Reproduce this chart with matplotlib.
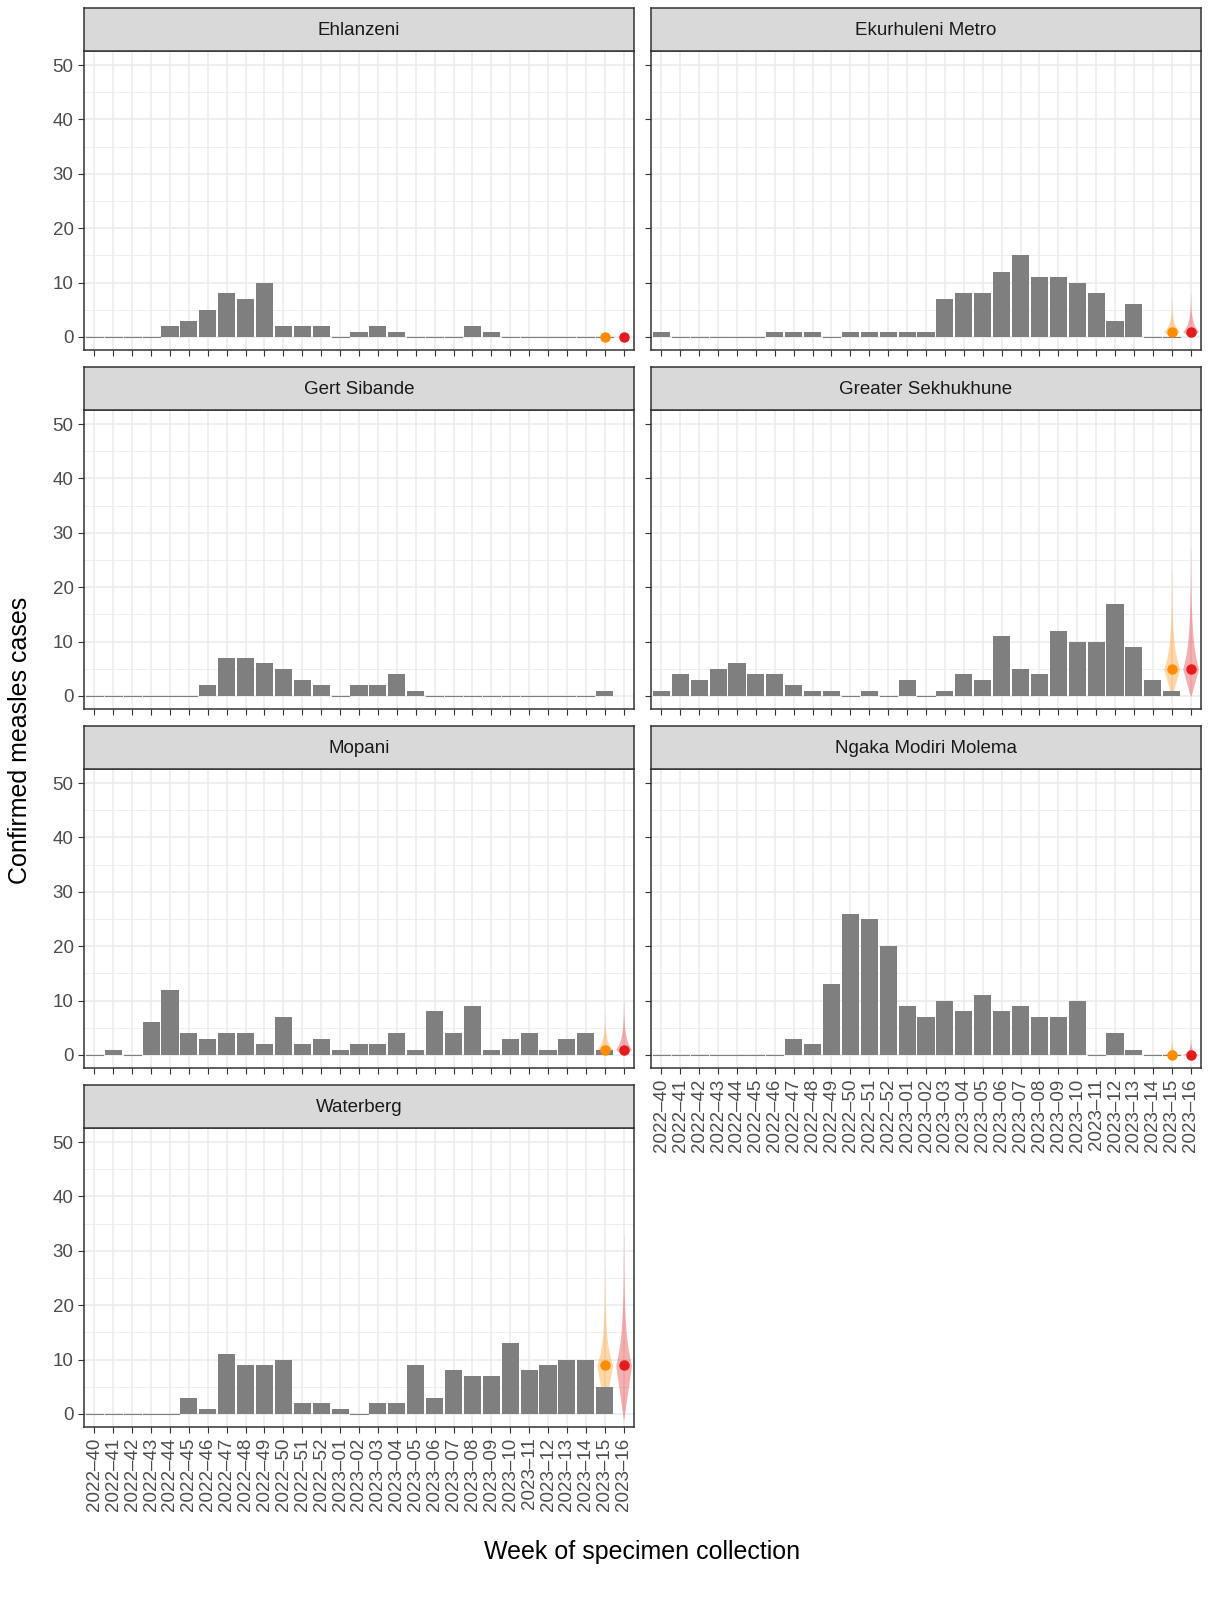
import matplotlib
matplotlib.use("Agg")
import matplotlib.pyplot as plt
import numpy as np

plt.rcParams['font.family'] = ['Liberation Sans', 'DejaVu Sans']

weeks = ["2022\u201340", "2022\u201341", "2022\u201342", "2022\u201343", "2022\u201344", "2022\u201345",
         "2022\u201346", "2022\u201347", "2022\u201348", "2022\u201349", "2022\u201350", "2022\u201351",
         "2022\u201352"] + ["2023\u2013%02d" % i for i in range(1, 17)]

districts = ["Ehlanzeni", "Ekurhuleni Metro", "Gert Sibande", "Greater Sekhukhune",
             "Mopani", "Ngaka Modiri Molema", "Waterberg"]

# confirmed cases per week (last week = 2023-16 has no bar)
ehlanzeni = [0, 0, 0, 0, 2, 3, 5, 8, 7, 10, 2, 2, 2, 0, 1, 2, 1, 0, 0, 0, 2, 1, 0, 0, 0, 0, 0, 0]
ekurhuleni = [1, 0, 0, 0, 0, 0, 1, 1, 1, 0, 1, 1, 1, 1, 1, 7, 8, 8, 12, 15, 11, 11, 10, 8, 3, 6, 0, 0]
gert = [0, 0, 0, 0, 0, 0, 2, 7, 7, 6, 5, 3, 2, 0, 2, 2, 4, 1, 0, 0, 0, 0, 0, 0, 0, 0, 0, 1]
sekhukhune = [1, 4, 3, 5, 6, 4, 4, 2, 1, 1, 0, 1, 0, 3, 0, 1, 4, 3, 11, 5, 4, 12, 10, 10, 17, 9, 3, 1]
mopani = [0, 1, 0, 6, 12, 4, 3, 4, 4, 2, 7, 2, 3, 1, 2, 2, 4, 1, 8, 4, 9, 1, 3, 4, 1, 3, 4, 1]
ngaka = [0, 0, 0, 0, 0, 0, 0, 3, 2, 13, 26, 25, 20, 9, 7, 10, 8, 11, 8, 9, 7, 7, 10, 0, 4, 1, 0, 0]
waterberg = [0, 0, 0, 0, 0, 3, 1, 11, 9, 9, 10, 2, 2, 1, 0, 2, 2, 9, 3, 8, 7, 7, 13, 8, 9, 10, 10, 5]
cases = [ehlanzeni, ekurhuleni, gert, sekhukhune, mopani, ngaka, waterberg]

# nowcast for 2023-15 (orange) and 2023-16 (red): median, lower, upper
nowcast15 = [(0, 0, 0.6), (1, 0, 7), None, (5, 0, 23), (1, 0, 8), (0, 0, 3), (9, 1, 27)]
nowcast16 = [(0, 0, 0.6), (1, 0, 8), None, (5, 0, 27), (1, 0, 10), (0, 0, 3), (9, -1, 33)]

W, H = 1232, 1603
fig = plt.figure(figsize=(W / 100, H / 100), dpi=100)

cols = [84, 651]
rows = [8, 367, 726, 1085]
pw, ph, sh = 550, 299, 43

gray_txt = '#4D4D4D'


def violin(ax, x, est, color):
    med, lo, hi = est
    y = np.linspace(lo, hi, 200)
    # skewed density shape peaked at the median
    d = np.where(y <= med, (y - lo + 0.3) / (med - lo + 0.3), np.exp(-2.2 * (y - med) / (hi - med + 1e-9) * 2))
    d = np.clip(d, 0, 1) * 0.42
    ax.fill_betweenx(y, x - d, x + d, color=color, alpha=0.35, lw=0)
    ax.plot(x, med, 'o', color=color, ms=6.5, zorder=5)


for i, name in enumerate(districts):
    r, c = divmod(i, 2)
    x0, y0 = cols[c], rows[r]
    ax = fig.add_axes([x0 / W, 1 - (y0 + sh + ph) / H, pw / W, ph / H])
    sax = fig.add_axes([x0 / W, 1 - (y0 + sh) / H, pw / W, sh / H])
    sax.set_facecolor('#D9D9D9')
    sax.set_xticks([]); sax.set_yticks([])
    for s in sax.spines.values():
        s.set_color('#333333'); s.set_linewidth(1.1)
    sax.text(0.5, 0.48, name, ha='center', va='center', fontsize=13.5, color='#1A1A1A')

    xs = np.arange(len(weeks))
    ax.set_xlim(-0.55, len(weeks) - 0.45)
    ax.set_ylim(-2.4, 52.6)
    ax.set_yticks([0, 10, 20, 30, 40, 50])
    ax.set_yticks([5, 15, 25, 35, 45], minor=True)
    ax.set_xticks(xs)
    ax.grid(True, which='major', color='#EBEBEB', lw=1.1)
    ax.grid(True, which='minor', axis='y', color='#EBEBEB', lw=0.6)
    ax.set_axisbelow(True)
    vals = cases[i]
    ax.bar(xs[:len(vals)], vals, width=0.9, color='#7F7F7F', zorder=2)
    # zero-height bars show as a thin line
    for k, v in enumerate(vals):
        if v == 0:
            ax.plot([k - 0.45, k + 0.45], [0, 0], color='#7F7F7F', lw=0.8, zorder=2)
    if nowcast15[i] is not None:
        violin(ax, len(weeks) - 2, nowcast15[i], '#FF8C00')
        violin(ax, len(weeks) - 1, nowcast16[i], '#E41A1C')
    for s in ax.spines.values():
        s.set_color('#333333'); s.set_linewidth(1.1)
    ax.tick_params(colors='#333333', labelcolor=gray_txt, labelsize=13.5, length=4)
    ax.tick_params(which='minor', length=0)
    if c == 1:
        ax.tick_params(axis='y', labelleft=False)
    if name in ("Waterberg", "Ngaka Modiri Molema"):
        ax.set_xticklabels(weeks, rotation=90, fontsize=13.5)
    else:
        ax.tick_params(axis='x', labelbottom=False)

fig.text(20 / W, 1 - 740 / H, "Confirmed measles cases", rotation=90, ha='center', va='center', fontsize=18)
fig.text(642 / W, 1 - 1552 / H, "Week of specimen collection", ha='center', va='center', fontsize=18)

fig.savefig("out.png", dpi=100)
